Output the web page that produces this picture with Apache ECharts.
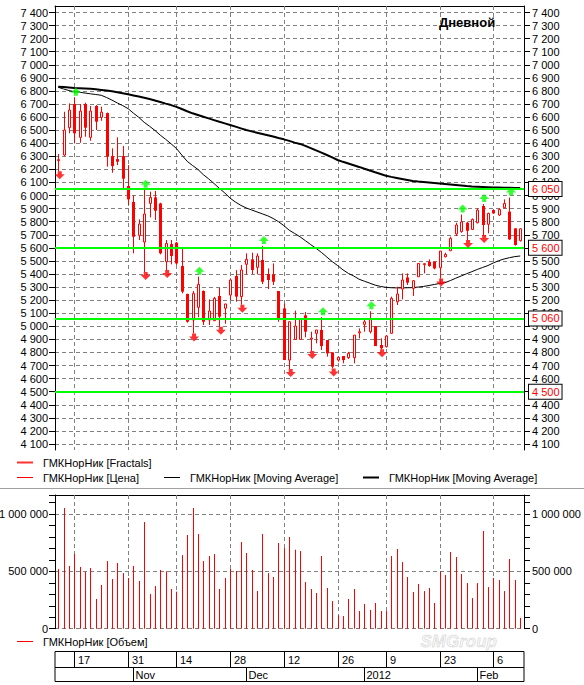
<!DOCTYPE html>
<html>
<head>
<meta charset="utf-8">
<title>ГМКНорНик</title>
<script src="https://cdn.jsdelivr.net/npm/echarts@6/dist/echarts.min.js"></script>
<style>
  html, body { margin: 0; padding: 0; background: #fff; }
  #chart { width: 584px; height: 685px; }
</style>
</head>
<body>
<div id="chart"></div>
<script>
// торговые дни
const dates = [
  '2011-10-12', '2011-10-13', '2011-10-14', '2011-10-17', '2011-10-18', '2011-10-19', '2011-10-20',
  '2011-10-21', '2011-10-24', '2011-10-25', '2011-10-26', '2011-10-27', '2011-10-28', '2011-10-31',
  '2011-11-01', '2011-11-02', '2011-11-03', '2011-11-07', '2011-11-08', '2011-11-09', '2011-11-10',
  '2011-11-11', '2011-11-14', '2011-11-15', '2011-11-16', '2011-11-17', '2011-11-18', '2011-11-21',
  '2011-11-22', '2011-11-23', '2011-11-24', '2011-11-25', '2011-11-28', '2011-11-29', '2011-11-30',
  '2011-12-01', '2011-12-02', '2011-12-05', '2011-12-06', '2011-12-07', '2011-12-08', '2011-12-09',
  '2011-12-12', '2011-12-13', '2011-12-14', '2011-12-15', '2011-12-16', '2011-12-19', '2011-12-20',
  '2011-12-21', '2011-12-22', '2011-12-23', '2011-12-26', '2011-12-27', '2011-12-28', '2011-12-29',
  '2011-12-30', '2012-01-03', '2012-01-04', '2012-01-05', '2012-01-06', '2012-01-09', '2012-01-10',
  '2012-01-11', '2012-01-12', '2012-01-13', '2012-01-16', '2012-01-17', '2012-01-18', '2012-01-19',
  '2012-01-20', '2012-01-23', '2012-01-24', '2012-01-25', '2012-01-26', '2012-01-27', '2012-01-30',
  '2012-01-31', '2012-02-01', '2012-02-02', '2012-02-03', '2012-02-06', '2012-02-07', '2012-02-08',
  '2012-02-09', '2012-02-10', '2012-02-13'
]

const opens = [
  6268, 6310, 6519, 6700, 6445, 6700, 6445, 6685, 6598, 6631,
  6302, 6279, 6302, 6073, 5951, 5696, 5645, 5940, 5986, 5940,
  5494, 5629, 5640, 5461, 5247, 5048, 5145, 5270, 5048, 5043,
  5232, 5138, 5239, 5385, 5227, 5474, 5512, 5451, 5507, 5400,
  5397, 5270, 5137, 4742, 4900, 4900, 5084, 4905, 4946, 4972,
  4895, 4801, 4742, 4773, 4760, 4760, 4950, 5015, 4959, 5002,
  4857, 4844, 4946, 5188, 5285, 5374, 5290, 5379, 5477, 5494,
  5494, 5448, 5532, 5578, 5706, 5724, 5792, 5741, 5792, 5920,
  5780, 5889, 5851, 5907, 5877, 5749, 5655
]
const closes = [
  6275, 6501, 6654, 6476, 6646, 6519, 6646, 6565, 6638, 6297,
  6226, 6259, 6129, 5971, 5685, 5782, 5859, 5986, 5884, 5558,
  5634, 5538, 5481, 5265, 5035, 5252, 5321, 5035, 5117, 5214,
  5074, 5171, 5354, 5227, 5431, 5512, 5431, 5538, 5341, 5354,
  5341, 5061, 4742, 5035, 5002, 5058, 4959, 4910, 4972, 4849,
  4793, 4691, 4763, 4742, 4793, 4933, 4958, 5035, 5056, 4849,
  4832, 4926, 5214, 5247, 5354, 5334, 5349, 5481, 5479, 5461,
  5443, 5576, 5550, 5673, 5775, 5798, 5731, 5818, 5889, 5775,
  5864, 5864, 5894, 5940, 5665, 5622, 5746
]
const lows = [
  6185, 6302, 6476, 6399, 6404, 6450, 6419, 6501, 6572, 6221,
  6175, 6233, 6055, 5928, 5558, 5660, 5415, 5833, 5813, 5550,
  5430, 5474, 5470, 5252, 5028, 4946, 5069, 5010, 5010, 5040,
  4997, 5020, 5201, 5188, 5165, 5397, 5400, 5397, 5323, 5285,
  5316, 5035, 4742, 4673, 4895, 4900, 4916, 4811, 4870, 4819,
  4768, 4678, 4730, 4717, 4750, 4717, 4908, 4959, 4946, 4849,
  4824, 4838, 4946, 5163, 5206, 5316, 5232, 5379, 5405, 5456,
  5436, 5365, 5527, 5578, 5690, 5716, 5660, 5736, 5787, 5698,
  5711, 5860, 5845, 5902, 5660, 5617, 5648
]
const highs = [
  6318, 6641, 6705, 6748, 6700, 6710, 6685, 6692, 6680, 6635,
  6361, 6445, 6379, 6233, 6002, 5818, 6044, 6030, 6035, 5945,
  5660, 5660, 5645, 5596, 5250, 5270, 5380, 5275, 5206, 5225,
  5295, 5171, 5367, 5430, 5469, 5558, 5563, 5558, 5615, 5443,
  5481, 5270, 5175, 5035, 5120, 5058, 5109, 4959, 4972, 5070,
  4895, 4801, 4768, 4773, 4805, 4933, 4984, 5048, 5115, 5002,
  4908, 4930, 5227, 5303, 5405, 5405, 5354, 5481, 5481, 5512,
  5494, 5576, 5563, 5685, 5792, 5855, 5800, 5825, 5902, 5935,
  5869, 5894, 5902, 5971, 5985, 5749, 5749
]
const volumes = [
  520000, 1052000, 547000, 651000, 538000, 494000, 529000, 259000, 381000, 590000,
  433000, 573000, 485000, 442000, 547000, 416000, 930000, 302000, 372000, 512000,
  500000, 346000, 323000, 642000, 817000, 1052000, 826000, 590000, 634000, 651000,
  346000, 442000, 520000, 503000, 756000, 660000, 512000, 328000, 826000, 485000,
  451000, 747000, 703000, 800000, 689000, 677000, 407000, 346000, 311000, 634000,
  355000, 241000, 116000, 110000, 259000, 346000, 154000, 215000, 163000, 224000,
  154000, 154000, 634000, 695000, 581000, 451000, 320000, 390000, 328000, 355000,
  224000, 500000, 468000, 669000, 625000, 477000, 398000, 267000, 398000, 852000,
  363000, 442000, 424000, 328000, 608000, 424000, 94401
]
// скользящие средние (тонкая и толстая)
const maFast = [
  6828, 6815, 6803, 6794, 6790, 6784, 6778, 6773, 6767, 6750,
  6730, 6708, 6688, 6665, 6630, 6598, 6560, 6530, 6498, 6462,
  6430, 6396, 6360, 6310, 6262, 6230, 6200, 6160, 6128, 6092,
  6055, 6020, 5980, 5950, 5925, 5905, 5890, 5875, 5860, 5845,
  5825, 5800, 5770, 5735, 5710, 5685, 5655, 5625, 5596, 5565,
  5530, 5495, 5465, 5432, 5405, 5385, 5360, 5345, 5330, 5315,
  5305, 5298, 5295, 5294, 5294, 5295, 5296, 5300, 5305, 5312,
  5320, 5328, 5334, 5350, 5368, 5385, 5402, 5418, 5435, 5450,
  5465, 5485, 5502, 5515, 5525, 5533, 5538
]
const maSlow = [
  6833, 6830, 6826, 6822, 6820, 6818, 6816, 6813, 6808, 6803,
  6798, 6790, 6782, 6774, 6766, 6757, 6748, 6738, 6727, 6715,
  6703, 6692, 6678, 6662, 6645, 6629, 6616, 6603, 6590, 6577,
  6564, 6552, 6540, 6527, 6514, 6501, 6491, 6481, 6471, 6461,
  6451, 6440, 6430, 6418, 6405, 6395, 6380, 6363, 6345, 6328,
  6310, 6292, 6272, 6258, 6245, 6232, 6219, 6205, 6192, 6178,
  6165, 6152, 6143, 6135, 6127, 6119, 6111, 6107, 6104, 6100,
  6096, 6093, 6089, 6085, 6081, 6077, 6073, 6070, 6068, 6066,
  6064, 6062, 6061, 6060, 6059, 6058, 6058
]
const fractalUp = [3, 16, 26, 38, 49, 58, 75, 79, 84]
const fractalDown = [0, 16, 20, 25, 30, 34, 43, 47, 51, 60, 71, 76, 79]
const levels = [6050, 5600, 5060, 4500]
const dayTickIdx = [3, 13, 22, 32, 42, 52, 61, 71, 81]
const monthNames = ['Jan', 'Feb', 'Mar', 'Apr', 'May', 'Jun', 'Jul', 'Aug', 'Sep', 'Oct', 'Nov', 'Dec']

const RED = '#ff0000'
const GREEN = '#00ff00'
const GRID_GRAY = '#808080'
const FONT = 'Liberation Sans'
const NAME_PRICE = 'ГМКНорНик [Цена]'
const NAME_FRACT = 'ГМКНорНик [Fractals]'
const NAME_MA_FAST = 'ГМКНорНик [Moving Average]'
const NAME_MA_SLOW = 'ГМКНорНик [Moving Average] ' // пробел в конце, чтобы легенда не слила два пункта
const NAME_VOL = 'ГМКНорНик [Объем]'

const X_MIN = -0.6
const X_MAX = 86.7

const fmt = v => String(Math.round(v)).replace(/\B(?=(\d{3})+(?!\d))/g, ' ')

// начало каждого месяца (кроме первого дня ряда)
const monthStartIdx = dates
  .map((d, i) => (i > 0 && d.slice(5, 7) !== dates[i - 1].slice(5, 7)) ? i : -1)
  .filter(i => i >= 0)
const monthLabel = i => {
  const m = parseInt(dates[i].slice(5, 7), 10)
  return m === 1 ? dates[i].slice(0, 4) : monthNames[m - 1]
}

const upArrow = 'path://M5,0 L10,5 L7,5 L7,8 L3,8 L3,5 L0,5 Z'
const downArrow = 'path://M3,0 L7,0 L7,3 L10,3 L5,8 L0,3 L3,3 Z'

const pxX = (api, i) => Math.round(api.coord([i, 0])[0]) + 0.5

function renderVLine(params, api) {
  const cs = params.coordSys
  const x = pxX(api, api.value(0))
  return {
    type: 'line',
    silent: true,
    shape: { x1: x, y1: cs.y, x2: x, y2: cs.y + cs.height },
    style: { stroke: GRID_GRAY, lineWidth: 1, lineDash: [4, 3] }
  }
}

function renderCandle(params, api) {
  const i = api.value(0)
  const o = api.value(1), c = api.value(2), l = api.value(3), h = api.value(4)
  const po = api.coord([i, o]), pc = api.coord([i, c])
  const pl = api.coord([i, l]), ph = api.coord([i, h])
  const x = Math.round(po[0]) + 0.5
  const top = Math.min(po[1], pc[1])
  const bodyH = Math.max(Math.abs(po[1] - pc[1]), 1)
  const body = c >= o
    ? { type: 'rect', shape: { x: x - 1, y: top, width: 2, height: bodyH }, style: { fill: '#fff', stroke: RED, lineWidth: 1 } }
    : { type: 'rect', shape: { x: x - 1.5, y: top, width: 3, height: bodyH }, style: { fill: RED } }
  return {
    type: 'group',
    children: [
      { type: 'line', shape: { x1: x, y1: ph[1], x2: x, y2: pl[1] }, style: { stroke: RED, lineWidth: 1 } },
      body
    ]
  }
}

function renderVolume(params, api) {
  const i = api.value(0)
  const p0 = api.coord([i, 0]), p1 = api.coord([i, api.value(1)])
  const x = Math.round(p0[0]) + 0.5
  return { type: 'line', shape: { x1: x, y1: p0[1], x2: x, y2: p1[1] }, style: { stroke: RED, lineWidth: 1 } }
}

function cellRenderer(idxList, labelOf, dx) {
  return function (params, api) {
    const cs = params.coordSys
    const x = pxX(api, api.value(0))
    const yMid = cs.y + cs.height / 2 + 0.5
    return {
      type: 'group',
      children: [
        { type: 'line', shape: { x1: x, y1: cs.y, x2: x, y2: cs.y + cs.height }, style: { stroke: '#000', lineWidth: 1 } },
        {
          type: 'text',
          style: {
            text: labelOf(idxList[params.dataIndex]),
            x: x + dx, y: yMid,
            fill: '#000', font: '11px "' + FONT + '"',
            align: 'left', verticalAlign: 'middle',
            textAlign: 'left', textVerticalAlign: 'middle'
          }
        }
      ]
    }
  }
}

const boxLabel = {
  show: true,
  position: 'end',
  distance: 5,
  color: RED,
  fontSize: 11,
  fontFamily: FONT,
  lineHeight: 12,
  backgroundColor: '#fff',
  borderColor: '#000',
  borderWidth: 1,
  padding: [1, 2, 1, 3],
  formatter: p => fmt(p.value)
}

const xBase = { type: 'value', min: X_MIN, max: X_MAX, show: false }
const frameX = {
  ...xBase, show: true, position: 'top',
  axisLine: { show: true, onZero: false, lineStyle: { color: '#000', width: 1 } },
  axisTick: { show: false }, axisLabel: { show: false }, splitLine: { show: false }
}
const frameY = {
  type: 'value', min: 0, max: 1,
  axisLine: { show: true, onZero: false, lineStyle: { color: '#000', width: 1 } },
  axisTick: { show: false }, axisLabel: { show: false }, splitLine: { show: false }
}
const tickStyle = { show: true, inside: false, length: 6, lineStyle: { color: '#000', width: 1 } }
const labelStyle = { color: '#000', fontSize: 11, fontFamily: FONT }
const priceY = {
  type: 'value', gridIndex: 1, min: 4100, max: 7400, interval: 100,
  axisLine: { show: false, onZero: false },
  axisTick: tickStyle,
  splitLine: { show: false }
}
const volY = {
  type: 'value', gridIndex: 2, min: 0, max: 1166000, interval: 100000,
  axisLine: { show: true, onZero: false, lineStyle: { color: '#000', width: 1 } },
  axisTick: tickStyle,
  splitLine: { show: false }
}
const volFmt = v => (v % 500000 === 0 ? fmt(v) : '')

const legendBase = {
  orient: 'horizontal', padding: 0, itemWidth: 16, selectedMode: false,
  textStyle: { fontSize: 11, fontFamily: FONT, color: '#000', padding: [0, 0, 0, 5] }
}

const gridBase = { left: 55, width: 469, containLabel: false, outerBoundsMode: 'none' }

const option = {
  animation: false,
  backgroundColor: '#fff',
  textStyle: { fontFamily: FONT },
  title: {
    text: 'Дневной', left: 439, top: 16, padding: 0,
    textStyle: { fontSize: 13, fontWeight: 'bold', fontFamily: FONT, color: '#000' }
  },
  legend: [
    { ...legendBase, left: 17, top: 457, itemHeight: 2, data: [{ name: NAME_FRACT, icon: 'rect', itemStyle: { color: RED } }] },
    { ...legendBase, left: 17, top: 472, itemHeight: 1, data: [{ name: NAME_PRICE, icon: 'rect', itemStyle: { color: RED } }] },
    { ...legendBase, left: 164, top: 472, itemHeight: 1, data: [{ name: NAME_MA_FAST, icon: 'rect', itemStyle: { color: '#000' } }] },
    { ...legendBase, left: 363, top: 472, itemHeight: 2, data: [{ name: NAME_MA_SLOW, icon: 'rect', itemStyle: { color: '#000' } }] },
    { ...legendBase, left: 17, top: 636, itemHeight: 1, data: [{ name: NAME_VOL, icon: 'rect', itemStyle: { color: RED } }] }
  ],
  grid: [
    { ...gridBase, top: 6, height: 444 },
    { ...gridBase, top: 12.5, height: 431.5 },
    { ...gridBase, top: 495, height: 133.7 },
    { ...gridBase, top: 651.5, height: 16, show: true, borderColor: '#000', borderWidth: 1, backgroundColor: 'transparent' },
    { ...gridBase, top: 667.5, height: 14, show: true, borderColor: '#000', borderWidth: 1, backgroundColor: 'transparent' }
  ],
  xAxis: [
    { ...frameX, gridIndex: 0 },
    { ...xBase, gridIndex: 1 },
    { ...frameX, gridIndex: 2 },
    { ...xBase, gridIndex: 3 },
    { ...xBase, gridIndex: 4 }
  ],
  yAxis: [
    { ...frameY, gridIndex: 0, position: 'left' },
    { ...frameY, gridIndex: 0, position: 'right' },
    {
      ...priceY, position: 'left',
      axisLabel: { ...labelStyle, margin: 7, formatter: fmt },
      splitLine: { show: true, lineStyle: { color: GRID_GRAY, width: 1, type: [4, 3] } }
    },
    { ...priceY, position: 'right', axisLabel: { ...labelStyle, margin: 8, formatter: fmt } },
    {
      ...volY, position: 'left',
      axisLabel: { ...labelStyle, margin: 7, formatter: volFmt },
      splitLine: {
        show: true,
        lineStyle: { color: [GRID_GRAY, 'rgba(0,0,0,0)', 'rgba(0,0,0,0)', 'rgba(0,0,0,0)', 'rgba(0,0,0,0)'], width: 1, type: [4, 3] }
      }
    },
    { ...volY, position: 'right', axisLabel: { ...labelStyle, margin: 8, formatter: volFmt } },
    { type: 'value', gridIndex: 3, min: 0, max: 1, show: false },
    { type: 'value', gridIndex: 4, min: 0, max: 1, show: false }
  ],
  graphic: [
    {
      // водяной знак, поднят над шкалой дат, чтобы не перекрывать её подписи
      type: 'text', left: 420, top: 632, z: -10, silent: true,
      style: { text: 'SMGroup', font: 'italic bold 17px "' + FONT + '"', fill: 'rgba(0,0,0,0.05)', stroke: 'rgba(0,0,0,0.12)', lineWidth: 1 }
    },
    {
      type: 'line', silent: true,
      shape: { x1: 0, y1: 488.5, x2: 584, y2: 488.5 },
      style: { stroke: '#a0a0a0', lineWidth: 1 }
    }
  ],
  series: [
    {
      type: 'custom', xAxisIndex: 0, yAxisIndex: 0, silent: true, z: 1,
      data: dayTickIdx.map(i => [i, 0]), renderItem: renderVLine
    },
    {
      type: 'custom', xAxisIndex: 2, yAxisIndex: 4, silent: true, z: 1,
      data: dayTickIdx.map(i => [i, 0]), renderItem: renderVLine
    },
    {
      name: NAME_MA_FAST, type: 'line', xAxisIndex: 1, yAxisIndex: 2, z: 3,
      data: maFast.map((v, i) => [i, v]),
      showSymbol: false, symbol: 'none',
      itemStyle: { color: '#000' },
      lineStyle: { color: '#000', width: 1 }
    },
    {
      name: NAME_MA_SLOW, type: 'line', xAxisIndex: 1, yAxisIndex: 2, z: 3,
      data: maSlow.map((v, i) => [i, v]),
      showSymbol: false, symbol: 'none',
      itemStyle: { color: '#000' },
      lineStyle: { color: '#000', width: 2 },
      markLine: {
        silent: true, symbol: ['none', 'none'], animation: false,
        lineStyle: { color: GREEN, width: 2, type: 'solid' },
        emphasis: { disabled: true },
        label: boxLabel,
        data: levels.map(v => ({ yAxis: v }))
      }
    },
    {
      name: NAME_PRICE, type: 'custom', xAxisIndex: 1, yAxisIndex: 2, z: 4,
      data: opens.map((o, i) => [i, o, closes[i], lows[i], highs[i]]),
      encode: { x: 0, y: [1, 2, 3, 4] },
      itemStyle: { color: RED },
      renderItem: renderCandle,
      markLine: {
        silent: true, symbol: ['none', 'none'], animation: false,
        lineStyle: { opacity: 0 },
        emphasis: { disabled: true },
        label: boxLabel,
        data: [{ yAxis: closes[closes.length - 1] }]
      }
    },
    {
      name: NAME_FRACT, type: 'scatter', xAxisIndex: 1, yAxisIndex: 2, z: 5,
      data: fractalUp.map(i => [i, highs[i]]),
      symbol: upArrow, symbolSize: [10, 8], symbolOffset: [1.5, -6],
      itemStyle: { color: GREEN }
    },
    {
      name: NAME_FRACT, type: 'scatter', xAxisIndex: 1, yAxisIndex: 2, z: 5,
      data: fractalDown.map(i => [i, lows[i]]),
      symbol: downArrow, symbolSize: [10, 8], symbolOffset: [1.5, 4],
      itemStyle: { color: RED }
    },
    {
      name: NAME_VOL, type: 'custom', xAxisIndex: 2, yAxisIndex: 4, z: 3,
      data: volumes.map((v, i) => [i, v]),
      encode: { x: 0, y: 1 },
      itemStyle: { color: RED },
      renderItem: renderVolume,
      markLine: {
        silent: true, symbol: ['none', 'none'], animation: false,
        lineStyle: { opacity: 0 },
        emphasis: { disabled: true },
        label: boxLabel,
        data: [{ yAxis: volumes[volumes.length - 1] }]
      }
    },
    {
      type: 'custom', xAxisIndex: 3, yAxisIndex: 6, silent: true,
      data: dayTickIdx.map(i => [i, 0]),
      renderItem: cellRenderer(dayTickIdx, i => String(parseInt(dates[i].slice(8), 10)), 3.5)
    },
    {
      type: 'custom', xAxisIndex: 4, yAxisIndex: 7, silent: true,
      data: monthStartIdx.map(i => [i, 0]),
      renderItem: cellRenderer(monthStartIdx, monthLabel, 2)
    }
  ]
}

const chart = echarts.init(document.getElementById('chart'), null, { renderer: 'svg' })
chart.setOption(option)
</script>
</body>
</html>
